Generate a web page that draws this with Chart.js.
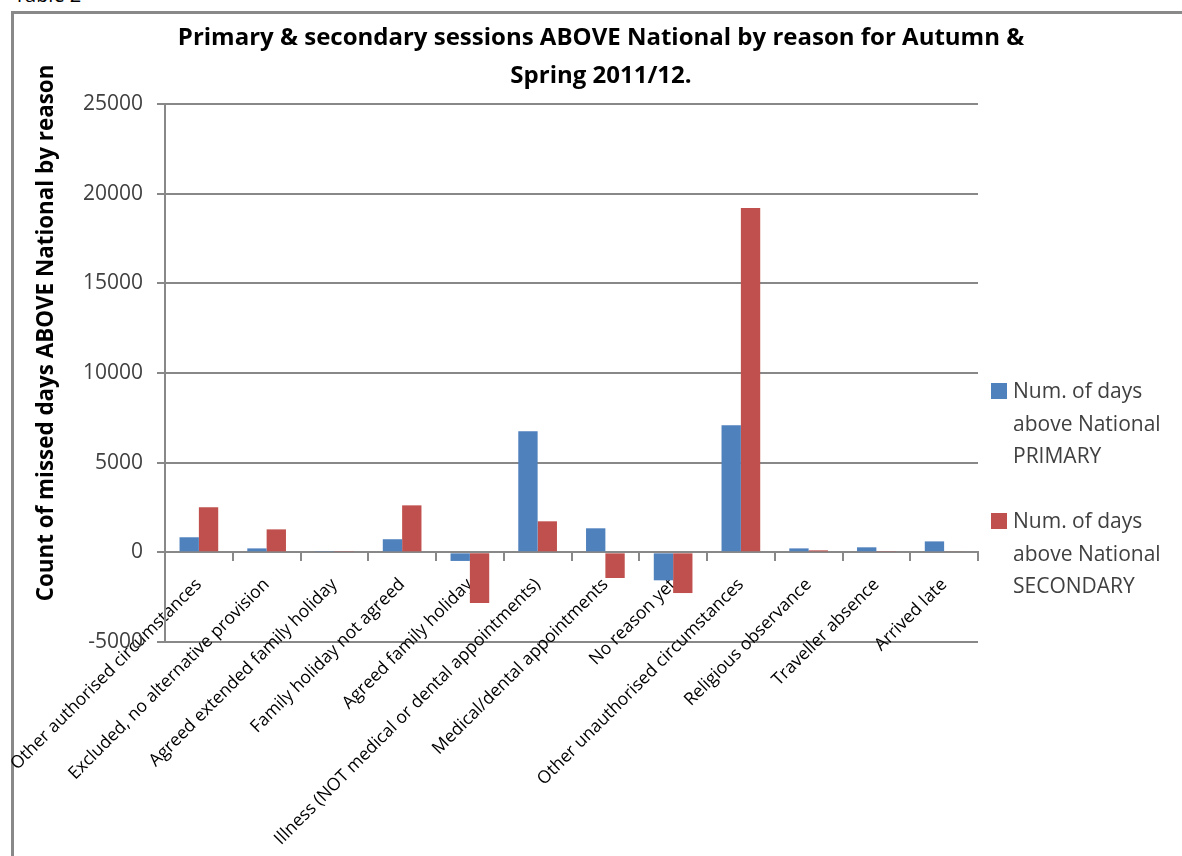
<!DOCTYPE html>
<html>
<head>
<meta charset="utf-8">
<script src="https://cdn.jsdelivr.net/npm/chart.js@4.4.1/dist/chart.umd.min.js"></script>
<style>
  html, body { margin: 0; padding: 0; background: #fff; overflow: hidden; width: 1182px; height: 856px; }
  #caption { position: absolute; left: 14px; top: -15px; font: 20px "Open Sans", sans-serif; line-height: 20px; color: #000; }
  #frame { position: absolute; left: 11px; top: 11px; width: 1400px; height: 1000px; border: 3px solid #898989; }
  #c { position: absolute; left: 0; top: 0; }
</style>
</head>
<body>
<div id="caption">Table 2</div>
<div id="frame"></div>
<canvas id="c" width="1182" height="856"></canvas>
<script>
const FONT = '"Open Sans", "DejaVu Sans", sans-serif';

const categories = [
  'Other authorised circumstances',
  'Excluded, no alternative provision',
  'Agreed extended family holiday',
  'Family holiday not agreed',
  'Agreed family holiday',
  'Illness (NOT medical or dental appointments)',
  'Medical/dental appointments',
  'No reason yet',
  'Other unauthorised circumstances',
  'Religious observance',
  'Traveller absence',
  'Arrived late'
];

const primaryDays   = [840, 220, 70, 730, -480, 6750, 1340, -1560, 7080, 220, 280, 610];
const secondaryDays = [2510, 1280, 70, 2620, -2820, 1730, -1430, -2270, 19200, 110, 70, 60];

const seriesNames = [
  ['Num. of days', 'above National', 'PRIMARY'],
  ['Num. of days', 'above National', 'SECONDARY']
];
const seriesColors = ['#4F81BD', '#C0504D'];

const yMin = -5000;
const yMax = 25000;
const yStep = 5000;

const chartTitle = ['Primary & secondary sessions ABOVE National by reason for Autumn &', 'Spring 2011/12.'];
const yTitle = 'Count of missed days ABOVE National by reason';

// Draws the vertical axis caption and the stacked, multi-line legend on the right.
const sideText = {
  id: 'sideText',
  afterDraw(chart) {
    const ctx = chart.ctx;
    ctx.save();
    ctx.font = 'bold 22.4px ' + FONT;
    ctx.fillStyle = '#000';
    ctx.translate(47, 333);
    ctx.rotate(-Math.PI / 2);
    ctx.textAlign = 'center';
    ctx.textBaseline = 'middle';
    ctx.fillText(yTitle, 0, 0);
    ctx.restore();

    ctx.save();
    ctx.font = '21px ' + FONT;
    ctx.textAlign = 'left';
    ctx.textBaseline = 'alphabetic';
    const tops = [383, 513];
    chart.data.datasets.forEach((ds, i) => {
      const top = tops[i];
      ctx.fillStyle = ds.backgroundColor;
      ctx.fillRect(991, top, 16, 16);
      ctx.fillStyle = '#404040';
      seriesNames[i].forEach((line, j) => {
        ctx.fillText(line, 1013, top + 15 + j * 32.5);
      });
    });
    ctx.restore();
  }
};

new Chart(document.getElementById('c'), {
  type: 'bar',
  data: {
    labels: categories,
    datasets: [
      { label: seriesNames[0].join(' '), data: primaryDays, backgroundColor: seriesColors[0],
        categoryPercentage: 0.571, barPercentage: 1, borderWidth: 0, yAxisID: 'y' },
      { label: seriesNames[1].join(' '), data: secondaryDays, backgroundColor: seriesColors[1],
        categoryPercentage: 0.571, barPercentage: 1, borderWidth: 0, yAxisID: 'y' }
    ]
  },
  options: {
    responsive: false,
    animation: false,
    layout: { padding: { left: 20, right: 0, top: 0, bottom: 214 } },
    plugins: {
      legend: { display: false },
      tooltip: { enabled: false },
      title: {
        display: true,
        text: chartTitle,
        color: '#000',
        font: { family: FONT, size: 24, weight: 'bold', lineHeight: 38 / 24 },
        padding: { top: 19, bottom: 9 }
      }
    },
    scales: {
      x: {
        position: { y: 0 },
        offset: true,
        grid: { drawOnChartArea: false, drawTicks: true, tickLength: 8, color: '#888', lineWidth: 2 },
        border: { display: true, color: '#888', width: 2 },
        ticks: {
          autoSkip: false, maxRotation: 45, minRotation: 45, padding: 14,
          color: '#000', font: { family: FONT, size: 17.5 }
        },
        afterFit(scale) { scale.height = 0; scale.paddingLeft = 0; scale.paddingRight = 0; }
      },
      y: {
        position: 'left',
        min: yMin,
        max: yMax,
        ticks: {
          stepSize: yStep, padding: 14, color: '#404040',
          font: { family: FONT, size: 21 },
          callback: (v) => String(v)
        },
        grid: { color: '#888', lineWidth: 2, tickLength: 8 },
        border: { color: '#888', width: 2 },
        afterFit(scale) { scale.width = 145; }
      },
      // empty right-hand strip that leaves room for the legend
      legendGutter: {
        type: 'linear',
        position: 'right',
        display: true,
        grid: { display: false, drawTicks: false },
        border: { display: false },
        ticks: { display: false },
        afterFit(scale) { scale.width = 204; }
      }
    }
  },
  plugins: [sideText]
});
</script>
</body>
</html>
